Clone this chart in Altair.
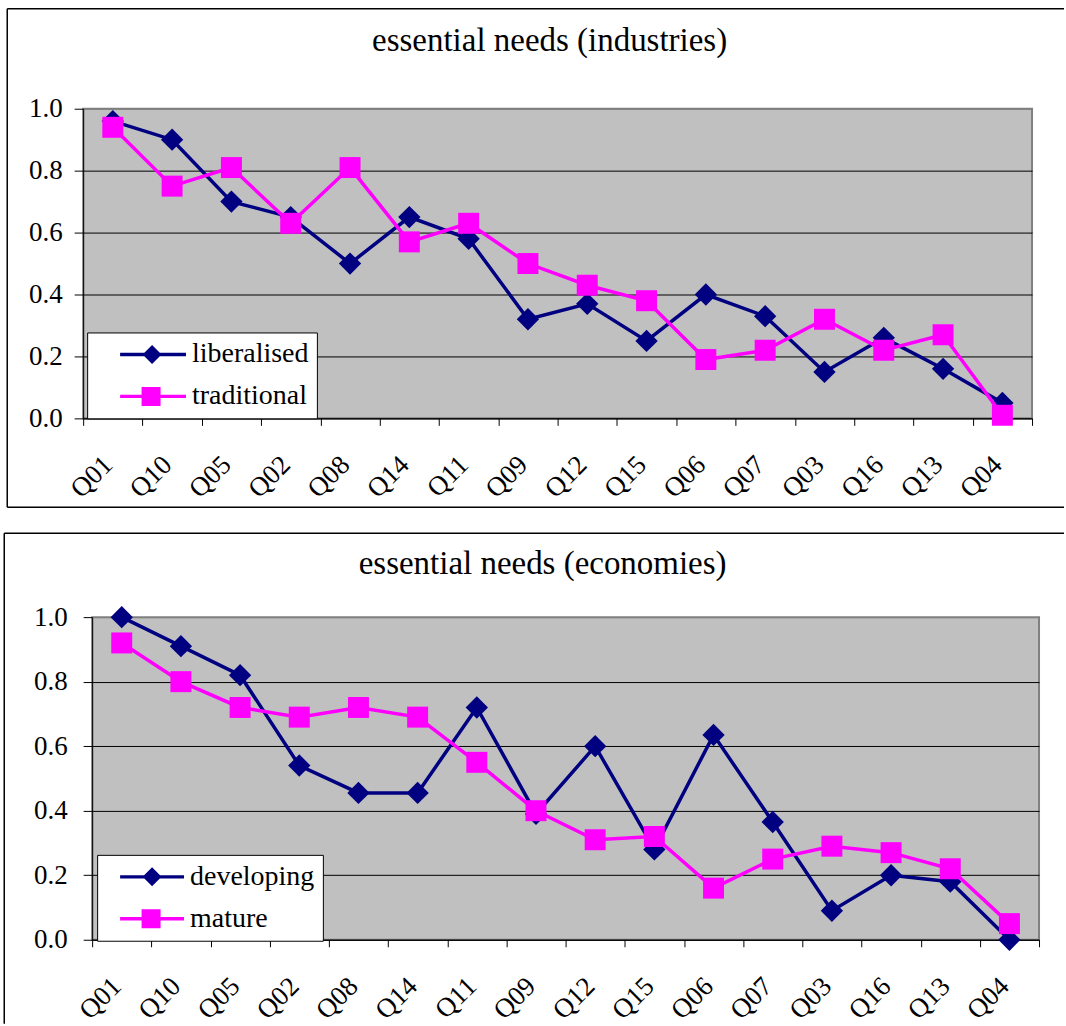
import altair as alt
import pandas as pd

# Question codes, in the order they are plotted along the x axis
questions = ["Q01", "Q10", "Q05", "Q02", "Q08", "Q14", "Q11", "Q09",
             "Q12", "Q15", "Q06", "Q07", "Q03", "Q16", "Q13", "Q04"]

# Essential needs by industry type
industry_series = ["liberalised", "traditional"]
liberalised = [0.96, 0.90, 0.70, 0.65, 0.50, 0.65, 0.58, 0.32,
               0.37, 0.25, 0.40, 0.33, 0.15, 0.26, 0.16, 0.05]
traditional = [0.94, 0.75, 0.81, 0.63, 0.81, 0.57, 0.63, 0.50,
               0.43, 0.38, 0.19, 0.22, 0.32, 0.22, 0.27, 0.01]

# Essential needs by economy type
economy_series = ["developing", "mature"]
developing = [1.00, 0.91, 0.82, 0.54, 0.455, 0.455, 0.72, 0.39,
              0.60, 0.28, 0.635, 0.365, 0.09, 0.20, 0.18, 0.00]
mature = [0.92, 0.80, 0.72, 0.69, 0.72, 0.69, 0.55, 0.40,
          0.31, 0.32, 0.16, 0.25, 0.29, 0.27, 0.22, 0.05]

y_ticks = [0.0, 0.2, 0.4, 0.6, 0.8, 1.0]

NAVY = "#000080"
MAGENTA = "#FF00FF"
PLOT_BG = "#C0C0C0"
FONT = "Liberation Serif"


def glyph_paths(width, line_from, centre_a, centre_b, half_marker, half_line):
    """Legend glyphs: a short line with a diamond / square on it, as SVG
    paths in the [-1, 1] symbol box (pixel offsets measured from the left
    of a symbol box `width` pixels wide)."""
    def u(px):
        return round(-1 + 2 * px / width, 4)

    hl = round(2 * half_line / width, 4)
    hm = round(2 * half_marker / width, 4)
    lf = u(line_from)
    bar = f"M{lf},{-hl}H1V{hl}H{lf}Z"
    ca, cb = u(centre_a), u(centre_b)
    diamond = (f"M{ca},{-hm}L{round(ca + hm, 4)},0L{ca},{hm}"
               f"L{round(ca - hm, 4)},0Z")
    square = (f"M{round(cb - hm, 4)},{-hm}H{round(cb + hm, 4)}"
              f"V{hm}H{round(cb - hm, 4)}Z")
    return [bar + diamond, bar + square]


def frame_layer(segments):
    """Thin black border drawn around a panel, one rule per edge."""
    edges = pd.DataFrame(segments, columns=["x1", "x2", "y1", "y2"])
    return alt.Chart(edges).mark_rule(color="black", strokeWidth=1.5).encode(
        x=alt.X("x1:Q", scale=None), x2="x2:Q",
        y=alt.Y("y1:Q", scale=None), y2="y2:Q",
    )


def panel(title, names, first, second, width, height, title_dx, title_offset,
          frame, legend_xy, glyph_width, glyphs, y_label_pad):
    data = pd.DataFrame({
        "question": questions * 2,
        "series": [names[0]] * len(questions) + [names[1]] * len(questions),
        "value": first + second,
    })

    x = alt.X(
        "question:N", sort=questions, title=None,
        scale=alt.Scale(type="band", paddingInner=0, paddingOuter=0),
        axis=alt.Axis(tickBand="extent", tickSize=7, labelAngle=315,
                      labelAlign="right", labelBaseline="middle",
                      labelPadding=35, labelOffset=-5, grid=False),
    )
    y = alt.Y(
        "value:Q", title=None,
        scale=alt.Scale(domain=[0, 1], nice=False),
        axis=alt.Axis(values=y_ticks, format=".1f", tickSize=9,
                      labelPadding=y_label_pad, grid=True,
                      gridColor=alt.condition("datum.value >= 1",
                                              alt.value("#808080"),
                                              alt.value("black"))),
    )
    base = alt.Chart(data).encode(x=x, y=y)

    legend = alt.Legend(
        title=None, orient="none", legendX=legend_xy[0], legendY=legend_xy[1],
        fillColor="white", strokeColor="black", padding=8,
        symbolSize=glyph_width ** 2, symbolStrokeWidth=0, symbolOpacity=1,
        labelFont=FONT, labelFontSize=28, labelColor="black",
        labelOffset=6, rowPadding=14, clipHeight=28, labelLimit=400,
    )
    key = base.mark_point(filled=True, opacity=0).encode(
        color=alt.Color("series:N", legend=legend,
                        scale=alt.Scale(domain=names, range=[NAVY, MAGENTA])),
        shape=alt.Shape("series:N", legend=legend,
                        scale=alt.Scale(domain=names, range=glyphs)),
    )

    def series_layers(name, colour, shape, size):
        sub = base.transform_filter(alt.datum.series == name)
        return [
            sub.mark_line(color=colour, strokeWidth=3.5),
            sub.mark_point(shape=shape, filled=True, size=size,
                           color=colour, opacity=1),
        ]

    return alt.layer(
        key, frame_layer(frame),
        *series_layers(names[0], NAVY, "diamond", 500),
        *series_layers(names[1], MAGENTA, "square", 441),
    ).properties(
        width=width, height=height,
        title=alt.TitleParams(title, font=FONT, fontSize=33,
                              fontWeight="normal", color="black",
                              anchor="middle", frame="group", dx=title_dx,
                              offset=title_offset, baseline="alphabetic"),
        view=alt.ViewBackground(fill=PLOT_BG, stroke="#808080", strokeWidth=2),
    )


top = panel(
    "essential needs (industries)", industry_series, liberalised, traditional,
    width=950, height=310, title_dx=-8, title_offset=-75.75,
    frame=[(-76, 982, -100, -100), (-76, -76, -100, 399), (-76, 982, 399, 399)],
    legend_xy=(4, 224), glyph_width=91,
    glyphs=glyph_paths(91, 25, 57, 56, 9.5, 1.7), y_label_pad=12,
)
bottom = panel(
    "essential needs (economies)", economy_series, developing, mature,
    width=948, height=323, title_dx=-23, title_offset=-74.75,
    frame=[(-88, 973, -84, -84), (-88, -88, -84, 407)],
    legend_xy=(5, 238), glyph_width=79,
    glyphs=glyph_paths(79, 15, 47, 46, 9.5, 1.7), y_label_pad=16,
)

# narrow blank column that nudges the lower panel to the right
spacer = alt.Chart(pd.DataFrame({"k": [0]})).mark_point(opacity=0).encode(
    x=alt.value(0), y=alt.value(0)
).properties(width=9, height=323,
             view=alt.ViewBackground(fillOpacity=0, strokeOpacity=0))

lower = alt.hconcat(spacer, bottom, spacing=0, bounds="flush").resolve_scale(
    color="independent", shape="independent"
)

chart = alt.vconcat(top, lower, spacing=199, bounds="flush").resolve_scale(
    x="independent", y="independent", color="independent", shape="independent"
).properties(
    padding={"left": 2.25, "top": 6.25, "right": 0, "bottom": 0},
    background="white",
).configure_view(
    strokeWidth=0
).configure_axis(
    labelFont=FONT, labelFontSize=27, labelColor="black",
    domainColor="black", tickColor="black", domainWidth=1, tickWidth=1,
    gridWidth=1,
)

chart.save("out.html", embed_options={"renderer": "svg", "actions": False})
